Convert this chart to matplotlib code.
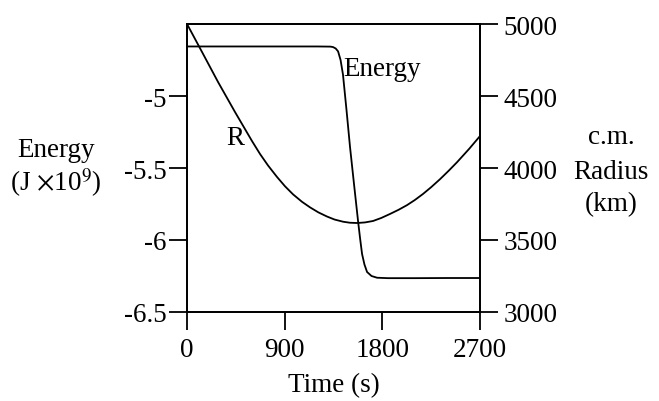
import matplotlib
matplotlib.use("Agg")
import matplotlib.pyplot as plt

plt.rcParams['font.family'] = ['Liberation Serif', 'DejaVu Serif']
plt.rcParams['mathtext.fontset'] = 'stix'

# energy curve (J x 10^9) vs time (s)
t_energy = [0, 300, 600, 900, 1200, 1320, 1345, 1370, 1392, 1415, 1437, 1470, 1502,
            1540, 1576, 1595, 1613, 1635, 1659, 1700, 1751, 1850, 2100, 2400, 2700]
energy = [-4.656, -4.656, -4.656, -4.656, -4.656, -4.657, -4.66, -4.67, -4.69, -4.75, -4.85,
          -5.10, -5.354, -5.62, -5.868, -5.99, -6.097, -6.17, -6.222, -6.25, -6.262,
          -6.265, -6.265, -6.264, -6.264]

# centre-of-mass radius (km) vs time (s)
t_radius = [0, 138, 286, 442, 599, 673, 746, 829, 903, 977, 1060, 1133, 1210, 1290,
            1360, 1438, 1500, 1567, 1640, 1714, 1790, 1871, 1950, 2027, 2100, 2175,
            2250, 2331, 2410, 2488, 2600, 2700]
radius = [5000, 4806, 4597, 4389, 4187, 4097, 4018, 3938, 3873, 3817, 3765, 3727, 3692, 3663,
          3642, 3627, 3620, 3618, 3622, 3632, 3653, 3681, 3710, 3742, 3778, 3820,
          3867, 3922, 3980, 4040, 4133, 4222]

xticks = [0, 900, 1800, 2700]
eticks = [-6.5, -6, -5.5, -5]
eticklabels = ['-6.5', '-6', '-5.5', '-5']
rticks = [3000, 3500, 4000, 4500, 5000]

fig = plt.figure(figsize=(6.59, 4.02), dpi=100)
ax = fig.add_axes([0.2838, 0.2214, 0.4446, 0.7164])
ax2 = ax.twinx()

ax.plot(t_energy, energy, color='black', lw=1.3, solid_joinstyle='round')
ax2.plot(t_radius, radius, color='black', lw=1.3, solid_joinstyle='round')

ax.set_xlim(0, 2700)
ax.set_ylim(-6.5, -4.5)
ax2.set_ylim(3000, 5000)

ax.set_xticks(xticks)
ax.set_xticklabels([str(v) for v in xticks])
ax.set_yticks(eticks)
ax.set_yticklabels(eticklabels)
ax2.set_yticks(rticks)
ax2.set_yticklabels([str(v) for v in rticks])

for a in (ax, ax2):
    for s in a.spines.values():
        s.set_linewidth(1.3)
    a.tick_params(direction='out', length=13, width=1.3, labelsize=19.5)
ax.tick_params(axis='y', pad=1.5)
ax.tick_params(axis='x', pad=5)
ax2.tick_params(axis='y', pad=4)

ax.text(1797, -4.806, 'Energy', fontsize=19.5, ha='center', va='center')
ax.text(442, -5.29, 'R', fontsize=19.5, ha='center', va='center')

ax.set_xlabel('Time (s)', fontsize=19.5, labelpad=7)

fig.text(0.085, 0.625, 'Energy', fontsize=19.5, ha='center', va='center')
fig.text(0.085, 0.545, r'(J $\times$10$^9$)', fontsize=19.5, ha='center', va='center')
fig.text(0.927, 0.658, 'c.m.', fontsize=19.5, ha='center', va='center')
fig.text(0.927, 0.57, 'Radius', fontsize=19.5, ha='center', va='center')
fig.text(0.927, 0.49, '(km)', fontsize=19.5, ha='center', va='center')

fig.savefig('out.png', dpi=100)
